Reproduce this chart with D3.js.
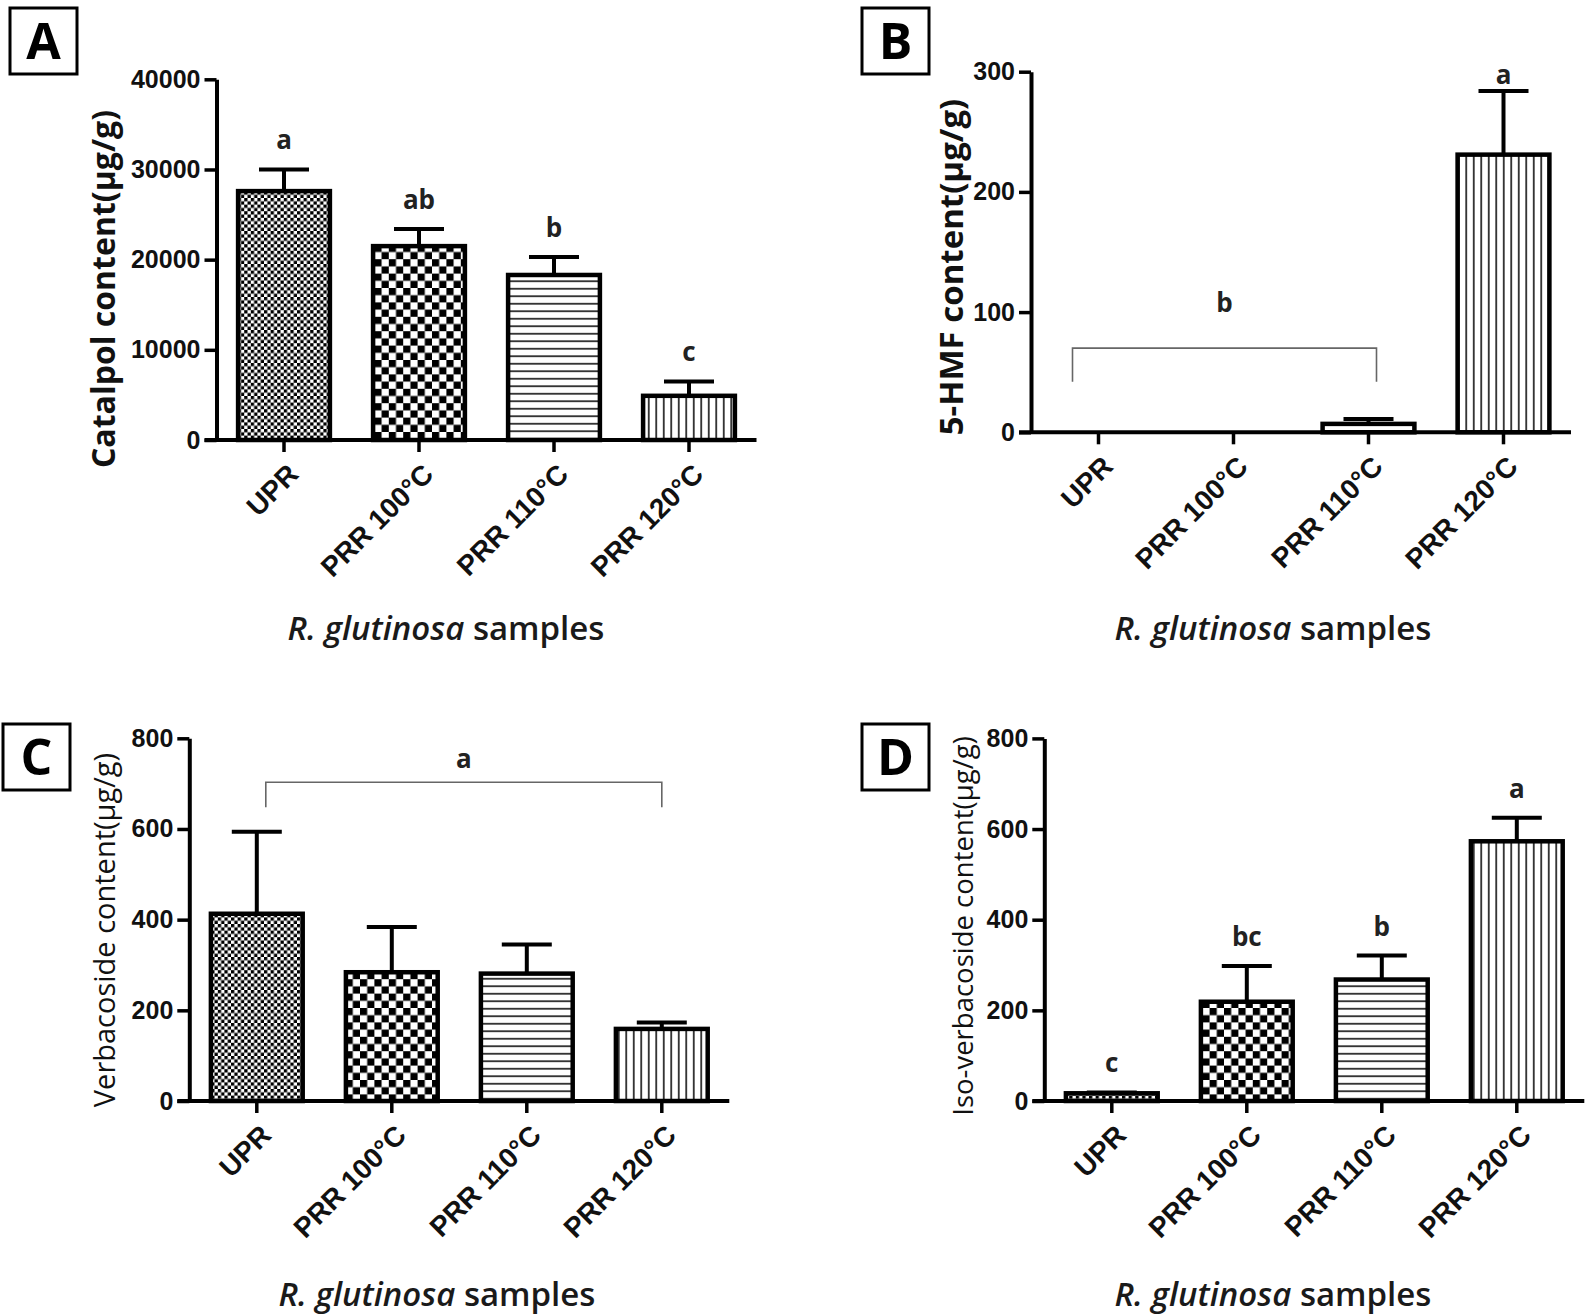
<!DOCTYPE html>
<html>
<head>
<meta charset="utf-8">
<script src="https://cdn.jsdelivr.net/npm/d3@7"></script>
<style>
  html, body { margin: 0; padding: 0; background: #fff; }
  svg { display: block; }
</style>
</head>
<body>
<svg id="chart" width="1594" height="1315"></svg>
<script>
// ---------------- DATA ----------------
const categories = ["UPR", "PRR 100°C", "PRR 110°C", "PRR 120°C"];

const catalpolMean = [27600, 21500, 18300, 4900];
const catalpolSD   = [2400, 1900, 2000, 1600];
const catalpolLetters = ["a", "ab", "b", "c"];
const catalpolTicks = [0, 10000, 20000, 30000, 40000];

const hmfMean = [0, 0, 7, 231];
const hmfSD   = [0, 0, 4, 53];
const hmfLetters = ["", "", "", "a"];
const hmfTicks = [0, 100, 200, 300];
const hmfBracket = { from: "UPR", to: "PRR 110°C", top: 70, leg: 42, label: "b" };

const verbMean = [413, 284, 281, 159];
const verbSD   = [181, 100, 64, 14];
const verbTicks = [0, 200, 400, 600, 800];
const verbBracket = { from: "UPR", to: "PRR 120°C", top: 703, leg: 648, label: "a" };

const isoMean = [17, 219, 268, 573];
const isoSD   = [2, 79, 53, 52];
const isoLetters = ["c", "bc", "b", "a"];
const isoTicks = [0, 200, 400, 600, 800];

const xTitleItalic = "R. glutinosa";
const xTitleRest = " samples";

// ---------------- LAYOUT ----------------
const panels = [
  { tag: "A", mean: catalpolMean, sd: catalpolSD, ticks: catalpolTicks, domain: [0, 40000],
    letters: catalpolLetters, bracket: null,
    axisX: 216.5, y0: 440, yTop: 79.3,
    yTitle: "Catalpol content(μg/g)", yTitleBold: true, yTitleX: 104, yTitleY: 289, yTitleSize: 32,
    xTitleX: 446, xTitleY: 640, box: [10, 8] },
  { tag: "B", mean: hmfMean, sd: hmfSD, ticks: hmfTicks, domain: [0, 300],
    letters: hmfLetters, bracket: hmfBracket, bracketDx: [-26, 8], bracketLabelDy: 36,
    axisX: 1031, y0: 432.3, yTop: 71.7,
    yTitle: "5-HMF content(μg/g)", yTitleBold: true, yTitleX: 951, yTitleY: 267, yTitleSize: 33,
    xTitleX: 1273, xTitleY: 640, box: [862, 8] },
  { tag: "C", mean: verbMean, sd: verbSD, ticks: verbTicks, domain: [0, 800],
    letters: null, bracket: verbBracket, bracketDx: [9, 0], bracketLabelDy: 14,
    axisX: 189.3, y0: 1101, yTop: 738.3,
    yTitle: "Verbacoside content(μg/g)", yTitleBold: false, yTitleX: 105, yTitleY: 930, yTitleSize: 29,
    xTitleX: 437, xTitleY: 1306, box: [3, 724] },
  { tag: "D", mean: isoMean, sd: isoSD, ticks: isoTicks, domain: [0, 800],
    letters: isoLetters, bracket: null,
    axisX: 1044.3, y0: 1101, yTop: 738.4,
    yTitle: "Iso-verbacoside content(μg/g)", yTitleBold: false, yTitleX: 963, yTitleY: 926, yTitleSize: 27.5,
    xTitleX: 1273, xTitleY: 1306, box: [862, 724] }
];

const svg = d3.select("#chart");
const defs = svg.append("defs");

// Patterns
function checker(id, cell) {
  const p = defs.append("pattern").attr("id", id).attr("patternUnits", "userSpaceOnUse")
    .attr("width", cell * 2).attr("height", cell * 2);
  p.append("rect").attr("width", cell * 2).attr("height", cell * 2).attr("fill", "#fff");
  p.append("rect").attr("width", cell).attr("height", cell).attr("fill", "#000");
  p.append("rect").attr("x", cell).attr("y", cell).attr("width", cell).attr("height", cell).attr("fill", "#000");
}
checker("pFine", 3.3);
checker("pCoarse", 7.2);
(function () {
  const s = 7.5;
  const h = defs.append("pattern").attr("id", "pHoriz").attr("patternUnits", "userSpaceOnUse")
    .attr("width", s).attr("height", s);
  h.append("rect").attr("width", s).attr("height", s).attr("fill", "#fff");
  h.append("line").attr("x1", 0).attr("x2", s).attr("y1", s / 2).attr("y2", s / 2)
    .attr("stroke", "#111").attr("stroke-width", 1.6);
  const v = defs.append("pattern").attr("id", "pVert").attr("patternUnits", "userSpaceOnUse")
    .attr("width", s).attr("height", s);
  v.append("rect").attr("width", s).attr("height", s).attr("fill", "#fff");
  v.append("line").attr("y1", 0).attr("y2", s).attr("x1", s / 2).attr("x2", s / 2)
    .attr("stroke", "#111").attr("stroke-width", 1.6);
})();
const fills = ["url(#pFine)", "url(#pCoarse)", "url(#pHoriz)", "url(#pVert)"];

const tickFont = "'Liberation Sans', Arial, sans-serif";
const titleFont = "'Open Sans', 'Noto Sans', sans-serif";

panels.forEach(p => {
  const g = svg.append("g");
  const x = d3.scaleBand().domain(categories)
    .range([p.axisX, p.axisX + 540]).paddingInner(0.32).paddingOuter(0.16);
  const y = d3.scaleLinear().domain(p.domain).range([p.y0, p.yTop]);
  const bw = x.bandwidth();

  // bars
  g.selectAll("rect.bar").data(categories).join("rect")
    .attr("class", "bar")
    .attr("x", d => x(d))
    .attr("y", (d, i) => y(p.mean[i]))
    .attr("width", bw)
    .attr("height", (d, i) => y(0) - y(p.mean[i]))
    .attr("fill", (d, i) => fills[i])
    .attr("stroke", "#000").attr("stroke-width", 4.5);

  // error bars (upper only)
  categories.forEach((c, i) => {
    if (p.sd[i] <= 0) return;
    const cx = x(c) + bw / 2;
    g.append("line").attr("x1", cx).attr("x2", cx)
      .attr("y1", y(p.mean[i])).attr("y2", y(p.mean[i] + p.sd[i]))
      .attr("stroke", "#000").attr("stroke-width", 4);
    g.append("line").attr("x1", cx - 25).attr("x2", cx + 25)
      .attr("y1", y(p.mean[i] + p.sd[i])).attr("y2", y(p.mean[i] + p.sd[i]))
      .attr("stroke", "#000").attr("stroke-width", 4);
  });

  // Y axis
  const ya = g.append("g").attr("transform", `translate(${p.axisX},0)`)
    .call(d3.axisLeft(y).tickValues(p.ticks).tickSize(12).tickSizeOuter(0).tickPadding(4).tickFormat(d3.format("d")));
  ya.select(".domain").attr("stroke", "#000").attr("stroke-width", 4);
  ya.selectAll(".tick line").attr("stroke", "#000").attr("stroke-width", 3.5);
  ya.selectAll(".tick text").attr("font-family", tickFont).attr("font-weight", "bold")
    .attr("font-size", 25).attr("fill", "#111");

  // X axis
  const xa = g.append("g").attr("transform", `translate(0,${p.y0})`)
    .call(d3.axisBottom(x).tickSize(12).tickSizeOuter(0));
  xa.select(".domain").attr("stroke", "#000").attr("stroke-width", 4)
    .attr("d", `M${p.axisX - 12},0H${p.axisX + 540}`);
  xa.selectAll(".tick line").attr("stroke", "#000").attr("stroke-width", 3.5);
  xa.selectAll(".tick text")
    .attr("font-family", tickFont).attr("font-weight", "bold").attr("font-size", 28)
    .attr("fill", "#111")
    .attr("text-anchor", "end")
    .attr("dy", null).attr("y", null)
    .attr("transform", "translate(16,36) rotate(-45)");

  // significance letters
  if (p.letters) {
    categories.forEach((c, i) => {
      if (!p.letters[i]) return;
      const yl = Math.max(y(p.mean[i] + p.sd[i]) - 20, p.yTop + 12);
      g.append("text").attr("x", x(c) + bw / 2).attr("y", yl)
        .attr("text-anchor", "middle").attr("font-family", titleFont)
        .attr("font-weight", 700).attr("font-size", 26).attr("fill", "#222")
        .text(p.letters[i]);
    });
  }
  // bracket
  if (p.bracket) {
    const b = p.bracket;
    const xl = x(b.from) + bw / 2 + p.bracketDx[0];
    const xr = x(b.to) + bw / 2 + p.bracketDx[1];
    g.append("path")
      .attr("d", `M${xl},${y(b.leg)}V${y(b.top)}H${xr}V${y(b.leg)}`)
      .attr("fill", "none").attr("stroke", "#666").attr("stroke-width", 1.6);
    g.append("text").attr("x", (xl + xr) / 2).attr("y", y(b.top) - p.bracketLabelDy)
      .attr("text-anchor", "middle").attr("font-family", titleFont)
      .attr("font-weight", 700).attr("font-size", 26).attr("fill", "#222")
      .text(b.label);
  }

  // y title
  g.append("text")
    .attr("transform", `translate(${p.yTitleX},${p.yTitleY}) rotate(-90)`)
    .attr("text-anchor", "middle").attr("dy", "0.35em")
    .attr("font-family", titleFont).attr("font-weight", p.yTitleBold ? 700 : 400)
    .attr("font-size", p.yTitleSize).attr("fill", "#111")
    .text(p.yTitle);

  // x title
  const xt = g.append("text").attr("x", p.xTitleX).attr("y", p.xTitleY)
    .attr("text-anchor", "middle").attr("font-family", titleFont)
    .attr("font-weight", 600).attr("font-size", 33).attr("fill", "#1a1a1a");
  xt.append("tspan").attr("font-style", "italic").text(xTitleItalic);
  xt.append("tspan").text(xTitleRest);

  // panel tag box
  g.append("rect").attr("x", p.box[0]).attr("y", p.box[1]).attr("width", 67).attr("height", 66)
    .attr("fill", "#fff").attr("stroke", "#000").attr("stroke-width", 3);
  g.append("text").attr("x", p.box[0] + 33.5).attr("y", p.box[1] + 33).attr("dy", "0.36em")
    .attr("text-anchor", "middle").attr("font-family", titleFont)
    .attr("font-weight", 700).attr("font-size", 50).attr("fill", "#000")
    .text(p.tag);
});
</script>
</body>
</html>
